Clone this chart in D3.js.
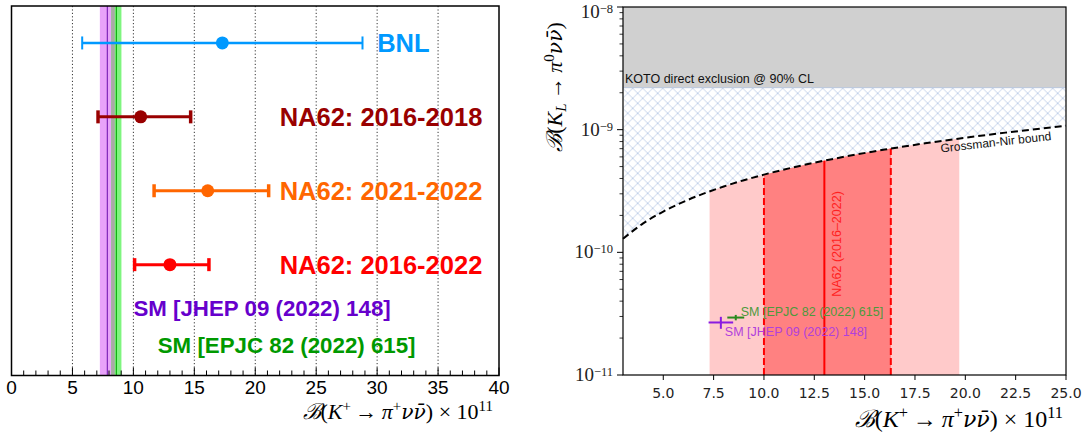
<!DOCTYPE html>
<html><head><meta charset="utf-8">
<script src="https://cdn.jsdelivr.net/npm/d3@7"></script>
<style>body{margin:0;background:#fff}svg{display:block}</style>
</head><body>
<svg id="c" width="1089" height="437"></svg>
<script>
// ---------------- data: left panel (K+ -> pi+ nu nubar measurements, x 1e-11) ----------------
const measNames   = ["BNL", "NA62: 2016-2018", "NA62: 2021-2022", "NA62: 2016-2022"];
const measCentral = [17.3, 10.6, 16.1, 13.0];
const measLow     = [5.8, 7.1, 11.7, 10.1];
const measHigh    = [28.8, 14.7, 21.1, 16.2];
const measRow     = [4, 3, 2, 1];
const measColors  = ["#0099ff", "#990000", "#ff6600", "#ff0000"];
const measLabelX  = [30, 22, 22, 22];

// SM predictions
const smNames     = ["SM [JHEP 09 (2022) 148]", "SM [EPJC 82 (2022) 615]"];
const smKplus     = [7.86, 8.60];
const smKplusErr  = [0.61, 0.42];
const smKL        = [2.68, 2.94];   // x 1e-11
const smKLErr     = [0.30, 0.15];
const smLeftRow   = [0.4, -0.1];
const smLeftLabX  = [10, 12];

const leftTicks   = [0, 5, 10, 15, 20, 25, 30, 35, 40];
const leftGrid    = [5, 10, 15, 20, 25, 30, 35];

// ---------------- data: right panel ----------------
const kotoLimit   = 2.2e-9;
const gnX         = [3, 4, 5, 6, 7, 8, 9, 10, 12, 14, 16, 18, 20, 22, 25];
const gnY         = [1.29e-10, 1.72e-10, 2.15e-10, 2.58e-10, 3.01e-10, 3.44e-10, 3.87e-10, 4.30e-10,
                     5.16e-10, 6.02e-10, 6.88e-10, 7.74e-10, 8.60e-10, 9.46e-10, 1.075e-9];
const na62Central = 13.0;
const na62Sigma1  = [10.0, 16.3];
const na62Sigma2  = [7.3, 19.7];
const rightXTicks = [5.0, 7.5, 10.0, 12.5, 15.0, 17.5, 20.0, 22.5, 25.0];
const rightYTicks = [1e-11, 1e-10, 1e-9, 1e-8];
const rightYExp   = ["\u221211", "\u221210", "\u22129", "\u22128"];

const svg = d3.select("#c");
const SANS = "'Liberation Sans', Arial, sans-serif";
const SERIF = "'Liberation Serif', 'DejaVu Serif', serif";

// ================= LEFT PANEL =================
const lx = d3.scaleLinear().domain([0, 40]).range([11.5, 499]);
const ly = d3.scaleLinear().domain([-0.5, 4.5]).range([375.5, 6]);
const L = svg.append("g");

// grid
L.selectAll(".grid").data(leftGrid).join("line")
  .attr("x1", d => lx(d)).attr("x2", d => lx(d))
  .attr("y1", ly(4.5)).attr("y2", ly(-0.5))
  .attr("stroke", "#000").attr("stroke-width", 0.8).attr("stroke-dasharray", "1.2,2.2");

// SM bands
const bandFill = ["#e8a2fa", "#7ff57f"];
const bandLine = ["#6a0dad", "#00a000"];
smNames.forEach((n, i) => {
  L.append("rect").attr("x", lx(smKplus[i] - smKplusErr[i])).attr("y", ly(4.5))
    .attr("width", lx(smKplus[i] + smKplusErr[i]) - lx(smKplus[i] - smKplusErr[i]))
    .attr("height", ly(-0.5) - ly(4.5)).attr("fill", bandFill[i]);
});
{
  const a = Math.max(smKplus[0] - smKplusErr[0], smKplus[1] - smKplusErr[1]);
  const b = Math.min(smKplus[0] + smKplusErr[0], smKplus[1] + smKplusErr[1]);
  if (b > a) L.append("rect").attr("x", lx(a)).attr("y", ly(4.5))
    .attr("width", lx(b) - lx(a)).attr("height", ly(-0.5) - ly(4.5)).attr("fill", "#a9a9a6");
}
smNames.forEach((n, i) => {
  L.append("line").attr("x1", lx(smKplus[i])).attr("x2", lx(smKplus[i]))
    .attr("y1", ly(4.5)).attr("y2", ly(-0.5)).attr("stroke", bandLine[i]).attr("stroke-width", 1);
});

// measurements
measNames.forEach((n, i) => {
  const y = ly(measRow[i]);
  const c = measColors[i];
  const sw = i === 0 ? 2.5 : 3;
  const capW = i === 0 ? 2 : 3.5;
  L.append("line").attr("x1", lx(measLow[i])).attr("x2", lx(measHigh[i]))
    .attr("y1", y).attr("y2", y).attr("stroke", c).attr("stroke-width", sw);
  [measLow[i], measHigh[i]].forEach(v => {
    L.append("line").attr("x1", lx(v)).attr("x2", lx(v)).attr("y1", y - 6.5).attr("y2", y + 6.5)
      .attr("stroke", c).attr("stroke-width", capW);
  });
  L.append("circle").attr("cx", lx(measCentral[i])).attr("cy", y).attr("r", 6.5).attr("fill", c);
  L.append("text").attr("x", lx(measLabelX[i])).attr("y", y + 9)
    .attr("font-family", SANS).attr("font-weight", "bold").attr("font-size", 25.5)
    .attr("fill", c).text(n);
});
const smTextColor = ["#6600cc", "#009900"];
smNames.forEach((n, i) => {
  L.append("text").attr("x", lx(smLeftLabX[i])).attr("y", ly(smLeftRow[i]) + 7.5)
    .attr("font-family", SANS).attr("font-weight", "bold").attr("font-size", 22.3)
    .attr("fill", smTextColor[i]).text(n);
});

// ticks (inside, pointing up)
L.selectAll(".mt").data(d3.range(0, 41, 1)).join("line")
  .attr("x1", d => lx(d)).attr("x2", d => lx(d))
  .attr("y1", ly(-0.5)).attr("y2", d => ly(-0.5) - (d % 5 === 0 ? 8 : 5))
  .attr("stroke", "#000").attr("stroke-width", 1);
L.selectAll(".tl").data(leftTicks).join("text")
  .attr("x", d => lx(d)).attr("y", 393.5).attr("text-anchor", "middle")
  .attr("font-family", SANS).attr("font-size", 19).text(d => d);

// frame
L.append("rect").attr("x", lx(0)).attr("y", ly(4.5)).attr("width", lx(40) - lx(0))
  .attr("height", ly(-0.5) - ly(4.5)).attr("fill", "none").attr("stroke", "#000").attr("stroke-width", 1.5);

// math-style axis title
function mathTitle(g, x, y, size, anchor, kind) {
  const t = g.append("text").attr("x", x).attr("y", y).attr("text-anchor", anchor)
    .attr("font-family", SERIF).attr("font-size", size);
  const sup = size * 0.68;
  t.append("tspan").attr("font-family", "'DejaVu Serif', serif").attr("font-style", "italic").text("\u212C");
  t.append("tspan").text("(");
  t.append("tspan").attr("font-style", "italic").text("K");
  if (kind === "plus") {
    t.append("tspan").attr("font-size", sup).attr("dy", -size * 0.38).text("+");
    t.append("tspan").attr("dy", size * 0.38).text("\u2009\u2192\u2009");
  } else {
    t.append("tspan").attr("font-size", sup).attr("font-style", "italic").attr("dy", size * 0.2).text("L");
    t.append("tspan").attr("dy", -size * 0.2).text("\u2009\u2192\u2009");
  }
  t.append("tspan").attr("font-style", "italic").text("\u03C0");
  t.append("tspan").attr("font-size", sup).attr("dy", -size * 0.38).text(kind === "plus" ? "+" : "0");
  t.append("tspan").attr("dy", size * 0.38).attr("font-family", "'DejaVu Serif', serif")
    .attr("font-style", "italic").attr("font-size", size * 0.92).text("\u03BD\u03BD\u0304");
  t.append("tspan").text(")");
  if (kind === "plus") {
    t.append("tspan").text(" \u00D7 10");
    t.append("tspan").attr("font-size", sup).attr("dy", -size * 0.38).text("11");
  }
  return t;
}
mathTitle(L, 493, 419, 22, "end", "plus");

// ================= RIGHT PANEL =================
const rx = d3.scaleLinear().domain([3, 25]).range([623, 1066]);
const ry = d3.scaleLog().domain([1e-11, 1e-8]).range([375, 7]);
const R = svg.append("g");
const defs = svg.append("defs");
const pat = defs.append("pattern").attr("id", "hatch").attr("patternUnits", "userSpaceOnUse")
  .attr("width", 10).attr("height", 10).attr("x", 7.7).attr("y", 3.3);
pat.append("path").attr("d", "M0,0L10,10M10,0L0,10M-1,9L1,11M9,-1L11,1")
  .attr("stroke", "#c5d3ea").attr("stroke-width", 1).attr("fill", "none");

const gnPts = gnX.map((x, i) => [x, gnY[i]]);
const gnAt = d3.scaleLinear().domain(gnX).range(gnY);   // bound is linear in B(K+)
const curve = d3.curveMonotoneX;

// KOTO excluded region
R.append("rect").attr("x", rx(3)).attr("y", ry(1e-8)).attr("width", rx(25) - rx(3))
  .attr("height", ry(kotoLimit) - ry(1e-8)).attr("fill", "#d0d0d0");
R.append("path").datum(gnPts)
  .attr("d", d3.area().x(d => rx(d[0])).y0(ry(kotoLimit)).y1(d => ry(d[1])).curve(curve))
  .attr("fill", "url(#hatch)");
R.append("line").attr("x1", rx(3)).attr("x2", rx(25)).attr("y1", ry(kotoLimit)).attr("y2", ry(kotoLimit))
  .attr("stroke", "#b9c7dc").attr("stroke-width", 1);

// NA62 bands under GN bound
function bandPts(lo, hi) {
  const pts = [[lo, gnAt(lo)]];
  gnX.forEach((x, i) => { if (x > lo && x < hi) pts.push([x, gnY[i]]); });
  pts.push([hi, gnAt(hi)]);
  return pts;
}
const bandArea = d3.area().x(d => rx(d[0])).y0(ry(1e-11)).y1(d => ry(d[1])).curve(curve);
R.append("path").datum(bandPts(na62Sigma2[0], na62Sigma2[1])).attr("d", bandArea).attr("fill", "#ffcaca");
R.append("path").datum(bandPts(na62Sigma1[0], na62Sigma1[1])).attr("d", bandArea).attr("fill", "#ff8181");
na62Sigma1.forEach(v => {
  R.append("line").attr("x1", rx(v)).attr("x2", rx(v)).attr("y1", ry(1e-11)).attr("y2", ry(gnAt(v)))
    .attr("stroke", "#ff0000").attr("stroke-width", 2).attr("stroke-dasharray", "7,3");
});
R.append("line").attr("x1", rx(na62Central)).attr("x2", rx(na62Central)).attr("y1", ry(1e-11))
  .attr("y2", ry(gnAt(na62Central))).attr("stroke", "#ff0000").attr("stroke-width", 2);
R.append("text").attr("transform", `translate(${rx(na62Central) + 17},244) rotate(-90)`)
  .attr("text-anchor", "middle").attr("font-family", SANS).attr("font-size", 12.5)
  .attr("fill", "#ff2020").text("NA62 (2016\u20132022)");

// GN bound line
R.append("path").datum(gnPts).attr("d", d3.line().x(d => rx(d[0])).y(d => ry(d[1])).curve(curve))
  .attr("fill", "none").attr("stroke", "#000").attr("stroke-width", 2).attr("stroke-dasharray", "7,4");
R.append("text").attr("transform", "translate(941,152.5) rotate(-6.5)")
  .attr("font-family", SANS).attr("font-size", 12).attr("fill", "#111").text("Grossman-Nir bound");
R.append("text").attr("x", rx(3.1)).attr("y", ry(kotoLimit) - 5)
  .attr("font-family", SANS).attr("font-size", 12.5).attr("fill", "#111").text("KOTO direct exclusion @ 90% CL");

// SM points
const smPtColor = ["#8a1be0", "#2a8a1e"];
const smLabColor = ["#b040dc", "#4c9a3c"];
const smLabDX = [4, 5];
const smLabDY = [13.5, -2];
smNames.forEach((n, i) => {
  const cx = rx(smKplus[i]), cy = ry(smKL[i] * 1e-11);
  R.append("line").attr("x1", rx(smKplus[i] - smKplusErr[i])).attr("x2", rx(smKplus[i] + smKplusErr[i]))
    .attr("y1", cy).attr("y2", cy).attr("stroke", smPtColor[i]).attr("stroke-width", 2);
  R.append("line").attr("x1", cx).attr("x2", cx).attr("y1", ry((smKL[i] - smKLErr[i]) * 1e-11))
    .attr("y2", ry((smKL[i] + smKLErr[i]) * 1e-11)).attr("stroke", smPtColor[i]).attr("stroke-width", 2);
});
smNames.forEach((n, i) => {
  R.append("text").attr("x", rx(smKplus[i]) + smLabDX[i])
    .attr("y", ry(smKL[i] * 1e-11) + smLabDY[i])
    .attr("font-family", SANS).attr("font-size", 12.5).attr("fill", smLabColor[i]).text(n);
});

// axes
R.append("rect").attr("x", rx(3)).attr("y", ry(1e-8)).attr("width", rx(25) - rx(3))
  .attr("height", ry(1e-11) - ry(1e-8)).attr("fill", "none").attr("stroke", "#000").attr("stroke-width", 1.2);
R.selectAll(".xt").data(rightXTicks).join("line")
  .attr("x1", d => rx(d)).attr("x2", d => rx(d)).attr("y1", ry(1e-11)).attr("y2", ry(1e-11) + 5)
  .attr("stroke", "#000").attr("stroke-width", 1);
R.selectAll(".xl").data(rightXTicks).join("text")
  .attr("x", d => rx(d)).attr("y", 398).attr("text-anchor", "middle")
  .attr("font-family", "'DejaVu Sans', sans-serif").attr("font-size", 14).attr("fill", "#222")
  .text(d => d.toFixed(1));
const minorY = [];
rightYTicks.slice(0, 3).forEach(b => { for (let k = 2; k <= 9; k++) minorY.push(b * k); });
R.selectAll(".ymt").data(minorY).join("line")
  .attr("x1", rx(3) - 3.5).attr("x2", rx(3)).attr("y1", d => ry(d)).attr("y2", d => ry(d))
  .attr("stroke", "#000").attr("stroke-width", 0.8);
R.selectAll(".yt").data(rightYTicks).join("line")
  .attr("x1", rx(3) - 6).attr("x2", rx(3)).attr("y1", d => ry(d)).attr("y2", d => ry(d))
  .attr("stroke", "#000").attr("stroke-width", 1);
rightYTicks.forEach((d, i) => {
  const t = R.append("text").attr("x", 613).attr("y", Math.max(ry(d) + 6, 17.5)).attr("text-anchor", "end")
    .attr("font-family", SERIF).attr("font-size", 19).attr("fill", "#222");
  t.append("tspan").text("10");
  t.append("tspan").attr("font-size", 12.5).attr("dy", -5).text(rightYExp[i]);
});
mathTitle(R, 1063, 427, 24, "end", "plus");
const yt = R.append("g").attr("transform", "translate(562,87) rotate(-90)");
mathTitle(yt, 0, 0, 22, "middle", "L");
</script>
</body></html>
